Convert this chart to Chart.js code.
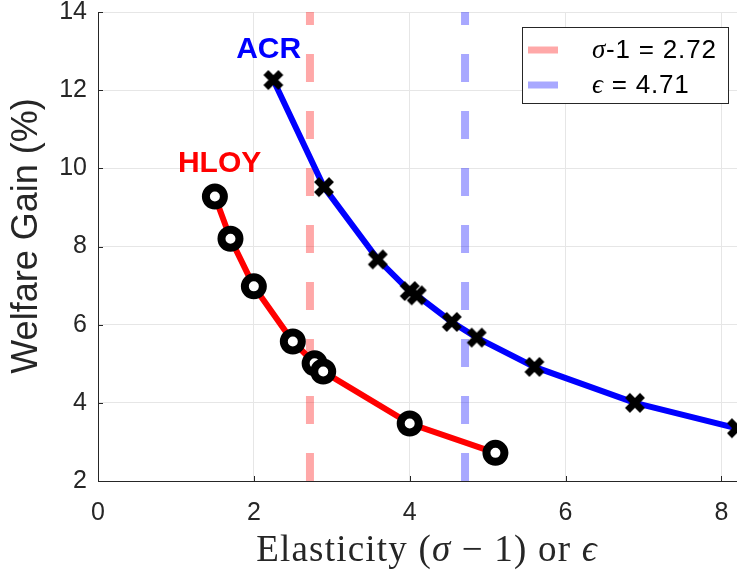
<!DOCTYPE html>
<html>
<head>
<meta charset="utf-8">
<title>Welfare Gain vs Elasticity</title>
<script src="https://cdn.jsdelivr.net/npm/chart.js@4.4.1/dist/chart.umd.min.js"></script>
<style>
  html, body { margin: 0; padding: 0; background: #fff; }
  #wrap { width: 737px; height: 571px; }
</style>
</head>
<body>
<div id="wrap"><canvas id="welfareChart"></canvas></div>
<script>
// HLOY estimates (circles)
const hloyX = [1.5, 1.7, 2.0, 2.5, 2.78, 2.89, 4.0, 5.1];
const hloyY = [9.28, 8.2, 6.98, 5.57, 5.01, 4.8, 3.47, 2.72];

// ACR estimates (crosses)
const acrX = [2.25, 2.9, 3.59, 4.0, 4.09, 4.54, 4.86, 5.6, 6.89, 8.2];
const acrY = [12.26, 9.52, 7.67, 6.86, 6.75, 6.07, 5.67, 4.92, 4.0, 3.35];

// reference elasticities
const sigmaMinusOne = 2.72;
const epsilonVal = 4.71;

const xTicks = [0, 2, 4, 6, 8];
const yTicks = [2, 4, 6, 8, 10, 12, 14];

// text labels next to each curve
const curveLabels = [
    { text: 'ACR', x: 2.19, y: 13.03, color: '#0000ff' },
    { text: 'HLOY', x: 1.56, y: 10.13, color: '#ff0000' }
];

const sans = '"Liberation Sans", Arial, Helvetica, sans-serif';
const serif = '"Liberation Serif", "Times New Roman", serif';
const ink = '#262626';

function toPoints(xs, ys) {
    return xs.map((x, i) => ({ x: x, y: ys[i] }));
}

// bold x marker
const crossMark = document.createElement('canvas');
crossMark.width = 22;
crossMark.height = 22;
(function () {
    const c = crossMark.getContext('2d');
    c.strokeStyle = '#000';
    c.lineWidth = 7;
    c.lineCap = 'butt';
    c.beginPath();
    c.moveTo(3.5, 3.5); c.lineTo(18.5, 18.5);
    c.moveTo(18.5, 3.5); c.lineTo(3.5, 18.5);
    c.stroke();
})();

// draw a list of [text, font] pieces one after the other
function drawRuns(ctx, runs, x, y, align) {
    let total = 0;
    runs.forEach(r => { ctx.font = r[1]; total += ctx.measureText(r[0]).width; });
    let cx = align === 'center' ? x - total / 2 : x;
    ctx.textAlign = 'left';
    runs.forEach(r => {
        ctx.font = r[1];
        ctx.fillText(r[0], cx, y);
        cx += ctx.measureText(r[0]).width;
    });
}

const decorations = {
    id: 'decorations',
    afterDatasetsDraw(chart) {
        const ctx = chart.ctx;
        const xs = chart.scales.x, ys = chart.scales.y;
        const area = chart.chartArea;
        ctx.save();

        // inward tick marks
        ctx.strokeStyle = ink;
        ctx.lineWidth = 1;
        ctx.beginPath();
        xTicks.forEach(v => {
            const px = Math.round(xs.getPixelForValue(v)) + 0.5;
            ctx.moveTo(px, area.bottom);
            ctx.lineTo(px, area.bottom - 5);
        });
        yTicks.forEach(v => {
            const py = Math.round(ys.getPixelForValue(v)) + 0.5;
            ctx.moveTo(area.left, py);
            ctx.lineTo(area.left + 5, py);
        });
        ctx.stroke();

        // curve names
        ctx.font = 'bold 30px ' + sans;
        ctx.textAlign = 'center';
        ctx.textBaseline = 'middle';
        curveLabels.forEach(l => {
            ctx.fillStyle = l.color;
            ctx.fillText(l.text, xs.getPixelForValue(l.x), ys.getPixelForValue(l.y));
        });

        // legend box
        const bx = 522, by = 27, bw = 206, bh = 76;
        ctx.fillStyle = '#fff';
        ctx.fillRect(bx, by, bw, bh);
        ctx.strokeStyle = ink;
        ctx.lineWidth = 1;
        ctx.strokeRect(bx + 0.5, by + 0.5, bw, bh);
        const rows = [
            { color: 'rgba(255,0,0,0.34)', y: 51, runs: [['σ', 'italic 27px ' + serif], ['-1 = 2.72', '26px ' + sans]] },
            { color: 'rgba(0,0,255,0.34)', y: 86, runs: [['ϵ', 'italic 27px ' + serif], [' = 4.71', '26px ' + sans]] }
        ];
        ctx.letterSpacing = '0.8px';
        rows.forEach(r => {
            ctx.strokeStyle = r.color;
            ctx.lineWidth = 7;
            ctx.beginPath();
            ctx.moveTo(528, r.y - 1);
            ctx.lineTo(558, r.y - 1);
            ctx.stroke();
            ctx.fillStyle = '#000';
            ctx.textBaseline = 'middle';
            drawRuns(ctx, r.runs, 592, r.y, 'left');
        });

        // axis titles
        ctx.fillStyle = ink;
        ctx.textBaseline = 'middle';
        ctx.letterSpacing = '1.2px';
        drawRuns(ctx, [
            ['Elasticity (', '37px ' + serif],
            ['σ', 'italic 37px ' + serif],
            [' − 1) or ', '37px ' + serif],
            ['ϵ', 'italic 37px ' + serif]
        ], 427, 551, 'center');
        ctx.letterSpacing = '0px';

        ctx.translate(27, 236);
        ctx.rotate(-Math.PI / 2);
        ctx.font = '36px ' + sans;
        ctx.textAlign = 'center';
        ctx.fillText('Welfare Gain (%)', 0, 0);
        ctx.restore();
    }
};

const ctx = document.getElementById('welfareChart').getContext('2d');
const welfareChart = new Chart(ctx, {
    type: 'line',
    data: {
        datasets: [
            {
                label: 'HLOY',
                data: toPoints(hloyX, hloyY),
                borderColor: '#ff0000',
                borderWidth: 6,
                pointStyle: 'circle',
                pointRadius: 9,
                pointBorderWidth: 8,
                pointBorderColor: '#000',
                pointBackgroundColor: '#fff',
                order: 1
            },
            {
                label: 'ACR',
                data: toPoints(acrX, acrY),
                borderColor: '#0000ff',
                borderWidth: 6,
                pointStyle: crossMark,
                pointRadius: 11,
                order: 0
            },
            {
                label: 'σ-1 = 2.72',
                data: [{ x: sigmaMinusOne, y: 2 }, { x: sigmaMinusOne, y: 14 }],
                borderColor: 'rgba(255,0,0,0.34)',
                borderWidth: 8,
                borderDash: [28, 29],
                borderCapStyle: 'butt',
                pointRadius: 0,
                order: 5
            },
            {
                label: 'ϵ = 4.71',
                data: [{ x: epsilonVal, y: 2 }, { x: epsilonVal, y: 14 }],
                borderColor: 'rgba(0,0,255,0.34)',
                borderWidth: 8,
                borderDash: [28, 29],
                borderCapStyle: 'butt',
                pointRadius: 0,
                order: 5
            }
        ]
    },
    options: {
        responsive: true,
        maintainAspectRatio: false,
        animation: false,
        devicePixelRatio: 1,
        layout: { autoPadding: false, padding: { top: 12, right: 0, left: 0, bottom: 0 } },
        plugins: {
            legend: { display: false },
            tooltip: { enabled: false }
        },
        scales: {
            x: {
                type: 'linear',
                min: 0,
                max: 8.2,
                grid: { color: '#e6e6e6', drawTicks: false },
                border: { color: ink, width: 1 },
                ticks: {
                    stepSize: 2,
                    includeBounds: false,
                    padding: 17,
                    color: ink,
                    font: { family: sans, size: 25 }
                },
                afterFit(scale) {
                    scale.height = 90;
                    scale.paddingLeft = 0;
                    scale.paddingRight = 0;
                }
            },
            y: {
                min: 2,
                max: 14,
                grid: { color: '#e6e6e6', drawTicks: false },
                border: { color: ink, width: 1 },
                ticks: {
                    stepSize: 2,
                    padding: 11,
                    color: ink,
                    font: { family: sans, size: 25 }
                },
                afterFit(scale) {
                    scale.width = 98;
                    scale.paddingTop = 0;
                    scale.paddingBottom = 0;
                }
            }
        }
    },
    plugins: [decorations]
});
</script>
</body>
</html>
